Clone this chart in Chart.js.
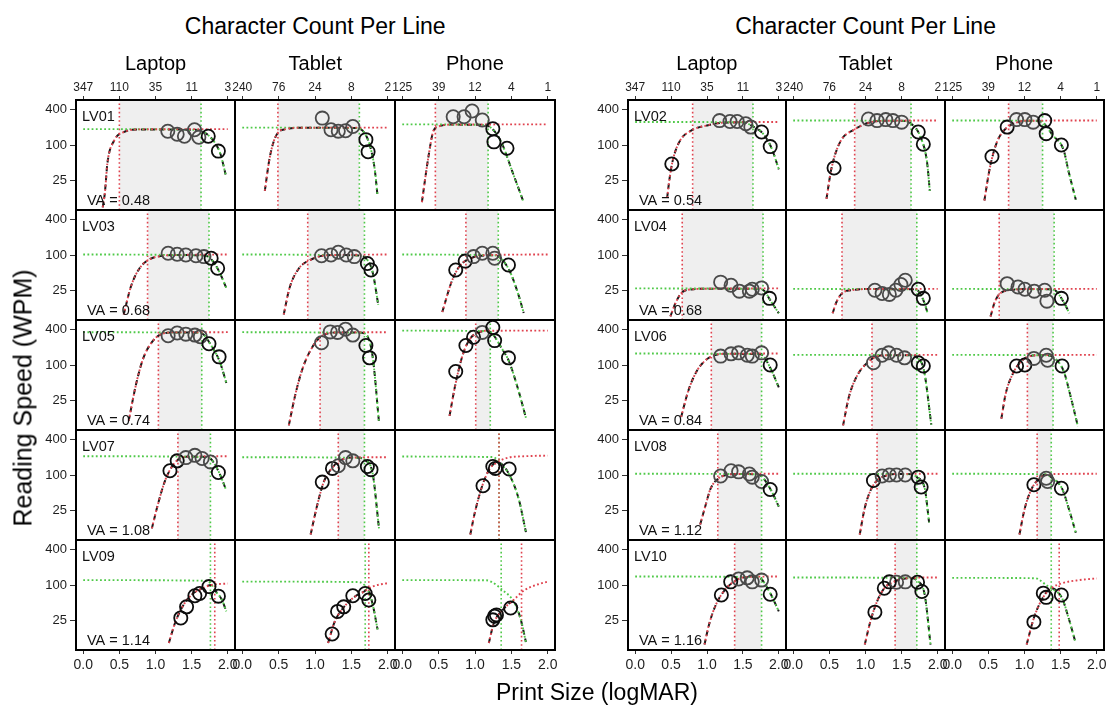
<!DOCTYPE html>
<html>
<head>
<meta charset="utf-8">
<script src="https://cdn.jsdelivr.net/npm/chart.js@4.4.1/dist/chart.umd.min.js"></script>
<style>
  body { margin: 0; background: #fff; }
  #fig { position: relative; width: 1108px; height: 706px; overflow: hidden;
         font-family: "Liberation Sans", Arial, Helvetica, sans-serif; color: #000; }
  #fig canvas { position: absolute; }
  .lbl { position: absolute; white-space: nowrap; line-height: 1; transform: translate(-50%, -50%); }
</style>
</head>
<body>
<div id="fig"></div>
<script>
// ---- data ----
var subjects = ["LV01", "LV02", "LV03", "LV04", "LV05", "LV06", "LV07", "LV08", "LV09", "LV10"]
var acuity = [0.48, 0.54, 0.68, 0.68, 0.74, 0.84, 1.08, 1.12, 1.14, 1.16]
var devices = ["Laptop", "Tablet", "Phone"]
var charCounts = [[347, 110, 35, 11, 3], [240, 76, 24, 8, 2], [125, 39, 12, 4, 1]]
var logmarTicks = [0, 0.5, 1, 1.5, 2]
var speedTicks = [25, 100, 400]

// measured reading speed, [subject][device] -> [logMAR, wpm]
var readings = [
  [[[1.17,170],[1.30,152],[1.40,140],[1.54,180],[1.60,135],[1.73,140],[1.87,79]],
   [[1.10,283],[1.22,180],[1.32,171],[1.42,174],[1.52,204],[1.70,123],[1.73,77]],
   [[0.70,298],[0.85,298],[0.96,372],[1.10,263],[1.245,187],[1.26,113],[1.44,88]]],
  [[[0.51,48],[1.175,257],[1.32,248],[1.42,248],[1.54,227],[1.61,200],[1.76,165],[1.88,94]],
   [[0.565,41],[1.04,274],[1.16,257],[1.28,267],[1.38,257],[1.50,242],[1.73,165],[1.80,103]],
   [[0.55,64],[0.76,200],[0.89,267],[1.005,267],[1.12,242],[1.28,257],[1.30,155],[1.51,100]]],
  [[[1.175,107],[1.30,103],[1.42,100],[1.56,97],[1.67,94],[1.77,88],[1.86,60]],
   [[1.09,97],[1.22,100],[1.32,111],[1.43,100],[1.54,94],[1.72,72],[1.77,56]],
   [[0.735,56],[0.865,79],[0.98,94],[1.10,107],[1.245,107],[1.27,88],[1.46,68]]],
  [[[1.19,35],[1.335,31],[1.45,24.7],[1.59,24.7],[1.63,26.6],[1.76,28],[1.87,18.7]],
   [[1.13,25.6],[1.23,22.6],[1.33,21.8],[1.42,25.6],[1.49,32],[1.55,37.6],[1.73,26.6],[1.80,18.7]],
   [[0.76,33],[0.91,29],[1.005,26.6],[1.135,24.7],[1.28,25.6],[1.31,16.8],[1.51,18.7]]],
  [[[1.175,310],[1.30,344],[1.42,330],[1.545,318],[1.62,299],[1.74,227],[1.88,137]],
   [[1.09,236],[1.21,360],[1.31,353],[1.42,400],[1.52,318],[1.70,213],[1.75,132]],
   [[0.735,78],[0.875,213],[0.98,292],[1.10,353],[1.245,426],[1.27,257],[1.46,132]]],
  [[[1.19,141],[1.335,154],[1.44,160],[1.56,146],[1.63,141],[1.76,160],[1.88,100]],
   [[1.11,109],[1.23,146],[1.32,160],[1.43,146],[1.54,132],[1.73,109],[1.80,96]],
   [[0.89,96],[1.005,100],[1.13,129],[1.30,146],[1.32,120],[1.52,96]]],
  [[[1.20,118],[1.30,173],[1.42,196],[1.545,214],[1.645,189],[1.76,166],[1.87,110]],
   [[1.10,76],[1.24,129],[1.32,143],[1.42,196],[1.52,173],[1.72,139],[1.77,123]],
   [[1.11,66],[1.245,139],[1.28,129],[1.47,126]]],
  [[[1.19,96],[1.335,118],[1.44,113],[1.59,104],[1.63,92],[1.76,78],[1.88,57]],
   [[1.11,81],[1.23,96],[1.33,100],[1.43,100],[1.55,100],[1.73,92],[1.77,63]],
   [[1.13,68.5],[1.30,88],[1.32,78],[1.51,60]]],
  [[[1.35,28],[1.43,43],[1.545,66],[1.61,72],[1.74,94],[1.87,65]],
   [[1.236,15],[1.31,36],[1.395,43],[1.52,66],[1.69,72],[1.74,56]],
   [[1.245,26],[1.27,30],[1.295,31.5],[1.49,41]]],
  [[[1.20,68],[1.33,113],[1.44,126],[1.56,132],[1.63,113],[1.76,121],[1.88,70]],
   [[1.13,35],[1.26,88],[1.33,113],[1.43,111],[1.55,113],[1.72,111],[1.78,78]],
   [[1.13,24],[1.26,73],[1.30,62],[1.51,68]]]
]

// critical print size from the left (red) and right (green) limb
var cpsLeft = [[0.50,0.49,0.455],[0.80,0.85,0.78],[0.89,0.90,0.875],[0.655,0.675,0.65],[1.04,1.07,1.01],
               [1.06,1.09,1.04],[1.31,1.32,1.33],[1.15,1.16,1.175],[1.82,1.74,1.64],[1.385,1.41,1.48]]
var cpsRight = [[1.63,1.61,1.18],[1.64,1.63,1.25],[1.74,1.68,1.32],[1.78,1.71,1.41],[1.64,1.68,1.21],
                [1.76,1.71,1.395],[1.76,1.68,1.33],[1.76,1.71,1.37],[1.76,1.69,1.36],[1.76,1.71,1.37]]

// rising (left) limb of the fit
var leftLimb = [
  [[[0.27,9],[0.30,16],[0.335,50],[0.43,120],[0.56,165],[0.8,183],[2.0,185]],
   [[0.31,17],[0.38,64],[0.48,155],[0.6,185],[0.8,195],[2.0,196]],
   [[0.27,11],[0.36,64],[0.43,175],[0.5,205],[0.65,220],[2.0,222]]],
  [[[0.445,13],[0.48,28],[0.52,53],[0.615,113],[0.785,176],[1.0,213],[1.2,236],[1.45,242],[2.0,244]],
   [[0.46,12.5],[0.53,41],[0.65,113],[0.85,183],[1.04,236],[1.25,255],[2.0,258]],
   [[0.445,11.7],[0.52,41],[0.62,113],[0.74,188],[0.88,236],[1.0,255],[2.0,258]]],
  [[[0.56,10],[0.66,29.5],[0.78,60],[0.93,86],[1.1,97],[1.3,100],[2.0,102]],
   [[0.57,10],[0.65,28],[0.78,60],[0.93,82],[1.1,97],[1.3,100],[2.0,102]],
   [[0.55,11],[0.68,36],[0.80,68],[0.93,86],[1.05,97],[1.2,100],[2.0,102]]],
  [[[0.49,9.3],[0.57,16.4],[0.66,24],[0.81,26.6],[1.0,27.2],[2.0,27.5]],
   [[0.545,10.5],[0.60,16.4],[0.69,23.5],[0.85,26],[1.0,26.8],[2.0,27]],
   [[0.53,9.3],[0.59,16.4],[0.68,23.5],[0.835,26],[1.0,26.8],[2.0,27]]],
  [[[0.63,11.7],[0.73,47],[0.83,129],[0.95,242],[1.08,330],[1.25,353],[2.0,356]],
   [[0.64,9.7],[0.73,32],[0.83,88],[0.95,188],[1.07,292],[1.2,345],[1.35,353],[2.0,356]],
   [[0.65,14],[0.73,47],[0.83,146],[0.93,274],[1.05,353],[1.15,376],[2.0,378]]],
  [[[0.64,13.4],[0.74,37],[0.86,80],[0.98,120],[1.10,146],[1.25,154],[2.0,156]],
   [[0.69,9.7],[0.77,29],[0.895,70],[1.04,113],[1.16,141],[1.3,146],[2.0,148]],
   [[0.68,12.6],[0.74,33],[0.835,70],[0.955,116],[1.08,141],[1.2,146],[2.0,148]]],
  [[[0.95,12.7],[1.03,31],[1.125,76],[1.22,134],[1.32,184],[1.45,204],[2.0,207]],
   [[0.94,10],[1.03,31],[1.12,76],[1.24,134],[1.34,173],[1.5,196],[2.0,199]],
   [[0.935,10],[1.0,24],[1.10,66],[1.20,126],[1.30,162],[1.45,195],[1.7,207],[2.0,212]]],
  [[[0.905,14.7],[0.98,31],[1.05,59],[1.15,86],[1.27,100],[1.4,104],[2.0,105]],
   [[0.92,10],[0.99,28],[1.07,55],[1.16,81],[1.28,97],[1.4,104],[2.0,105]],
   [[0.93,10],[1.005,28],[1.10,59],[1.20,86],[1.3,100],[1.45,104],[2.0,105]]],
  [[[1.185,10.6],[1.27,23],[1.40,49],[1.52,72],[1.65,88],[1.77,100],[2.0,106]],
   [[1.18,10.6],[1.27,24],[1.40,43],[1.55,64],[1.67,77],[1.79,94],[2.0,108]],
   [[1.19,10.6],[1.26,23],[1.38,38],[1.53,56],[1.68,82],[1.87,103],[2.0,114]]],
  [[[0.965,10],[1.03,22],[1.125,47],[1.25,83],[1.37,113],[1.49,133],[1.6,137],[2.0,139]],
   [[0.99,10],[1.07,25],[1.16,53],[1.26,88],[1.41,116],[1.55,129],[1.65,132],[2.0,134]],
   [[1.03,10],[1.13,28],[1.25,60],[1.37,88],[1.52,107],[1.76,121],[2.0,129]]]
]

// falling (right) limb of the fit
var rightLimb = [
  [[[0,185],[1.55,180],[1.7,155],[1.82,110],[1.9,70],[1.97,32]],
   [[0,196],[1.55,193],[1.68,160],[1.76,93],[1.82,40],[1.86,14]],
   [[0,222],[1.12,218],[1.25,180],[1.37,106],[1.52,34],[1.66,11.7]]],
  [[[0,244],[1.5,240],[1.64,205],[1.78,155],[1.9,88],[2.0,39]],
   [[0,258],[1.5,255],[1.63,230],[1.77,129],[1.85,53],[1.89,17]],
   [[0,258],[1.15,255],[1.25,240],[1.39,146],[1.54,83],[1.61,36],[1.71,12]]],
  [[[0,102],[1.65,98],[1.74,92],[1.87,56],[1.98,28]],
   [[0,102],[1.6,98],[1.68,92],[1.79,53],[1.87,14.6]],
   [[0,102],[1.25,99],[1.32,95],[1.47,56],[1.60,21],[1.67,10.6]]],
  [[[0,27.5],[1.7,27],[1.78,26],[1.88,17.5],[2.0,10.5]],
   [[0,27],[1.65,26.5],[1.71,26],[1.81,16.4],[1.86,10.5]],
   [[0,27],[1.35,26.5],[1.41,26],[1.54,16.4],[1.62,10.5]]],
  [[[0,356],[1.55,350],[1.64,340],[1.77,213],[1.89,113],[1.98,50]],
   [[0,356],[1.6,350],[1.68,340],[1.79,146],[1.88,11]],
   [[0,378],[1.15,372],[1.21,360],[1.37,188],[1.47,113],[1.60,36.5],[1.70,13]]],
  [[[0,156],[1.7,153],[1.76,150],[1.88,90],[2.0,42]],
   [[0,148],[1.65,145],[1.71,135],[1.81,80],[1.91,10]],
   [[0,148],[1.33,145],[1.40,135],[1.54,80],[1.64,29],[1.74,9.2]]],
  [[[0,207],[1.7,200],[1.76,190],[1.88,110],[1.98,55]],
   [[0,199],[1.62,194],[1.68,180],[1.79,110],[1.88,12.7]],
   [[0,204],[1.25,200],[1.34,160],[1.47,102],[1.60,40],[1.70,11]]],
  [[[0,105],[1.68,103],[1.76,95],[1.88,59],[2.0,29.5]],
   [[0,105],[1.64,103],[1.71,92],[1.82,59],[1.88,16]],
   [[0,105],[1.3,103],[1.37,92],[1.52,59],[1.61,28],[1.71,10.7]]],
  [[[0,121],[1.65,118],[1.76,108],[1.82,82],[1.92,56],[1.98,36]],
   [[0,114],[1.6,112],[1.72,85],[1.79,49],[1.86,18]],
   [[0,121],[1.15,120],[1.22,114],[1.38,82],[1.53,53],[1.63,26],[1.70,11]]],
  [[[0,139],[1.7,135],[1.76,125],[1.88,73],[2.0,36]],
   [[0,134],[1.65,130],[1.71,120],[1.82,68],[1.90,10]],
   [[0,132],[1.15,130],[1.30,100],[1.37,88],[1.52,60],[1.61,28],[1.70,11.5]]]
]

// where the black fitted curve passes from the left limb to the right limb
var joinAt = [[1.5,1.5,1.1],[1.45,1.45,1.1],[1.6,1.55,1.2],[1.6,1.6,1.3],[1.5,1.55,1.12],
              [1.6,1.6,1.3],[1.6,1.55,1.32],[1.6,1.6,1.3],[1.78,1.7,1.5],[1.65,1.65,1.37]]

// ---- layout ----
var FONT = '"Liberation Sans", Arial, Helvetica, sans-serif'
var halfLeft = [75.7, 627.5], panelW = [159.7, 158.7]
var rowTop = 100, rowH = 110
var pad = 10, yAxisW = 50, topAxisH = 26, botAxisH = 30
var xMin = -0.1, xMax = 2.1, yMin = 8.1, yMax = 570
var RED = "#e0434f", GREEN = "#4fc948", INK = "#1a1a1a"

var fig = document.getElementById("fig")
Chart.defaults.font.family = FONT

function addLabel(text, x, y, size, rotate) {
    var d = document.createElement("div")
    d.className = "lbl"
    d.textContent = text
    d.style.left = x + "px"
    d.style.top = y + "px"
    d.style.fontSize = size + "px"
    if (rotate) d.style.transform = "translate(-50%, -50%) rotate(-90deg)"
    fig.appendChild(d)
}

function pts(list) {
    return list.map(function(p){ return {x: p[0], y: p[1]} })
}

// frame and the subject / acuity text of each panel
var panelDeco = {
    id: "panelDeco",
    afterDatasetsDraw: function(chart) {
        var ca = chart.chartArea, ctx = chart.ctx, o = chart.options.plugins.panelDeco
        ctx.save()
        if (o.subject) {
            ctx.fillStyle = "#111"
            ctx.font = "14.5px " + FONT
            ctx.textBaseline = "alphabetic"
            ctx.fillText(o.subject, ca.left + 6, ca.top + 21)
            ctx.fillText("VA = " + o.va.toFixed(2), ca.left + 11, ca.bottom - 5)
        }
        ctx.strokeStyle = "#000"
        ctx.lineWidth = 2
        ctx.strokeRect(ca.left, ca.top, ca.right - ca.left, ca.bottom - ca.top)
        ctx.restore()
    }
}

function tickGrid(len) {
    return {display: true, drawOnChartArea: false, drawTicks: true, tickLength: len, color: "#333", lineWidth: 1}
}

function makePanel(s, d) {
    var half = s % 2, row = Math.floor(s / 2), col = d
    var x0 = Math.round(halfLeft[half] + col * panelW[half])
    var x1 = Math.round(halfLeft[half] + (col + 1) * panelW[half])
    var y0 = rowTop + row * rowH
    var extraL = col === 0 ? yAxisW : 0
    var extraT = row === 0 ? topAxisH : 0
    var extraB = row === 4 ? botAxisH : 0

    var cv = document.createElement("canvas")
    var w = (x1 - x0) + 2 * pad + extraL
    var h = rowH + 2 * pad + extraT + extraB
    cv.width = w; cv.height = h
    cv.style.width = w + "px"; cv.style.height = h + "px"
    cv.style.left = (x0 - pad - extraL) + "px"
    cv.style.top = (y0 - pad - extraT) + "px"
    fig.appendChild(cv)

    var cl = cpsLeft[s][d], cr = cpsRight[s][d], j = joinAt[s][d]
    var rise = leftLimb[s][d], fall = rightLimb[s][d]
    var fit = rise.filter(function(p){ return p[0] < j }).concat(fall.filter(function(p){ return p[0] >= j }))
    var dots = readings[s][d]
    var dotColors = dots.map(function(p){ return (p[0] >= cl && p[0] <= cr) ? "#4a4a4a" : "#0d0d0d" })

    var datasets = [
        {data: pts(dots), showLine: false, pointRadius: 6.6, pointBorderWidth: 1.8,
         pointBorderColor: dotColors, pointBackgroundColor: "rgba(0,0,0,0)", order: 1},
        {data: pts(rise), borderColor: RED, borderWidth: 1.9, borderDash: [1.8, 2.4],
         cubicInterpolationMode: "monotone", pointRadius: 0, order: 2},
        {data: pts(fall), borderColor: GREEN, borderWidth: 1.9, borderDash: [1.8, 2.4],
         cubicInterpolationMode: "monotone", pointRadius: 0, order: 2},
        {data: pts(fit), borderColor: INK, borderWidth: 2, borderDash: [5, 4],
         cubicInterpolationMode: "monotone", pointRadius: 0, order: 3},
        {data: [{x: cl, y: yMin}, {x: cl, y: yMax}], borderColor: RED, borderWidth: 1.6,
         borderDash: [1.6, 2.6], pointRadius: 0, order: 4},
        {data: [{x: cr, y: yMin}, {x: cr, y: yMax}], borderColor: GREEN, borderWidth: 1.6,
         borderDash: [1.6, 2.6], pointRadius: 0, order: 4}
    ]
    if (cl < cr) {
        datasets.push({data: [{x: cl, y: yMax}, {x: cr, y: yMax}], fill: "start",
            backgroundColor: "#efefef", borderWidth: 0, pointRadius: 0, order: 9})
    }

    new Chart(cv, {
        type: "line",
        data: {datasets: datasets},
        plugins: [panelDeco],
        options: {
            responsive: false,
            animation: false,
            devicePixelRatio: 1,
            events: [],
            layout: {padding: pad},
            plugins: {
                legend: {display: false},
                tooltip: {enabled: false},
                panelDeco: {subject: col === 0 ? subjects[s] : null, va: acuity[s]}
            },
            scales: {
                x: {
                    type: "linear", position: "bottom", display: row === 4,
                    min: xMin, max: xMax, bounds: "data",
                    afterBuildTicks: function(sc){ sc.ticks = logmarTicks.map(function(v){ return {value: v} }) },
                    afterFit: function(sc){ if (sc.options.display) { sc.height = botAxisH; sc.paddingLeft = 0; sc.paddingRight = 0 } },
                    ticks: {callback: function(v){ return Number(v).toFixed(1) }, font: {size: 14},
                            color: "#1e1e1e", padding: 3, maxRotation: 0, autoSkip: false},
                    grid: tickGrid(4),
                    border: {display: false}
                },
                x2: {
                    type: "linear", position: "top", display: row === 0,
                    min: xMin, max: xMax, bounds: "data",
                    afterBuildTicks: function(sc){ sc.ticks = logmarTicks.map(function(v){ return {value: v} }) },
                    afterFit: function(sc){ if (sc.options.display) { sc.height = topAxisH; sc.paddingLeft = 0; sc.paddingRight = 0 } },
                    ticks: {callback: function(v, i){ return String(charCounts[d][i]) }, font: {size: 12},
                            color: "#1e1e1e", padding: 1, maxRotation: 0, autoSkip: false},
                    grid: tickGrid(4),
                    border: {display: false}
                },
                y: {
                    type: "logarithmic", position: "left", display: col === 0,
                    min: yMin, max: yMax, bounds: "data",
                    afterBuildTicks: function(sc){ sc.ticks = speedTicks.map(function(v){ return {value: v} }) },
                    afterFit: function(sc){ if (sc.options.display) { sc.width = yAxisW; sc.paddingTop = 0; sc.paddingBottom = 0 } },
                    ticks: {callback: function(v){ return String(v) }, font: {size: 13},
                            color: "#1e1e1e", padding: 3, autoSkip: false},
                    grid: tickGrid(6),
                    border: {display: false}
                }
            }
        }
    })
}

for (var s = 0; s < subjects.length; s++) {
    for (var d = 0; d < devices.length; d++) makePanel(s, d)
}

// titles, strip headers, axis titles
for (var hf = 0; hf < 2; hf++) {
    addLabel("Character Count Per Line", halfLeft[hf] + 1.5 * panelW[hf], 26, 23)
    for (var c = 0; c < 3; c++) addLabel(devices[c], halfLeft[hf] + (c + 0.5) * panelW[hf], 63, 20)
}
addLabel("Reading Speed (WPM)", 23, 398, 25, true)
addLabel("Print Size (logMAR)", 597, 692, 23)
</script>
</body>
</html>
